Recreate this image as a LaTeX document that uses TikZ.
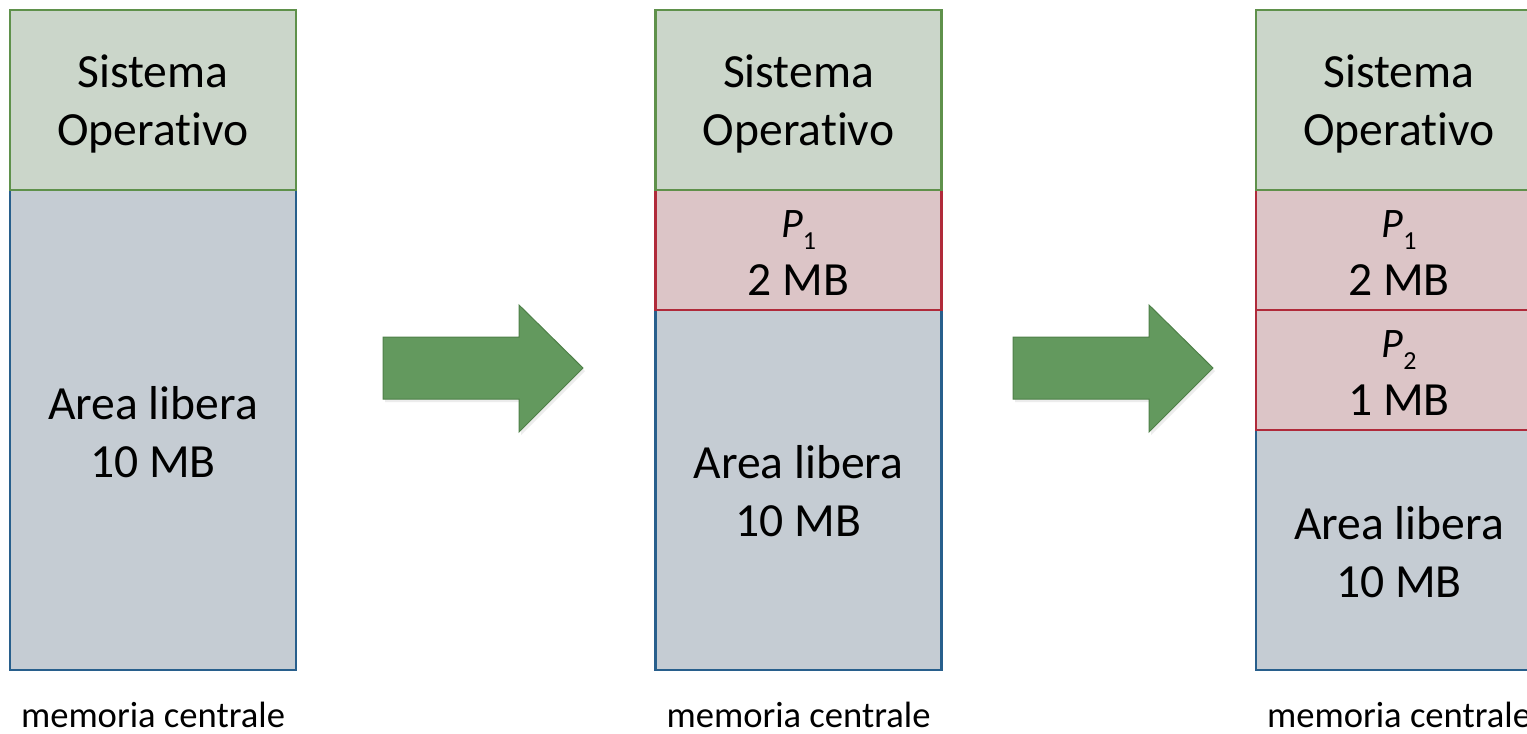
\documentclass[tikz,border=0pt]{standalone}
\usepackage{fontspec}
\setmainfont{Carlito}[Ligatures=NoCommon]
\usetikzlibrary{shadows}

\definecolor{osfill}{RGB}{203,214,202}
\definecolor{osline}{RGB}{95,145,75}
\definecolor{freefill}{RGB}{197,204,211}
\definecolor{freeline}{RGB}{40,95,140}
\definecolor{procfill}{RGB}{220,197,199}
\definecolor{procline}{RGB}{176,42,58}
\definecolor{arrowfill}{RGB}{99,153,94}
\definecolor{arrowline}{RGB}{78,128,72}

\tikzset{
  region/.style={rectangle, draw, line width=2.4pt, minimum width=286pt,
    inner sep=0pt, outer sep=0pt},
  osregion/.style={region, fill=osfill, draw=osline, minimum height=180pt},
  procregion/.style={region, fill=procfill, draw=procline, minimum height=120pt},
  freeregion/.style={region, fill=freefill, draw=freeline},
  regiontext/.style={inner sep=0pt, align=center,
    font=\fontsize{47.6}{58}\selectfont},
  caption/.style={anchor=base, inner sep=0pt, font=\fontsize{36.6}{44}\selectfont},
  blockarrow/.style={fill=arrowfill, draw=arrowline, line width=1pt,
    drop shadow={opacity=0.15, shadow xshift=2pt, shadow yshift=-3pt}}
}

% process name: italic P with a lowered index
\newcommand\procname[1]{{\fontsize{42}{58}\selectfont\itshape P}\raisebox{-12pt}{\fontsize{26}{26}\selectfont #1}}

\begin{document}
\begin{tikzpicture}[x=1pt, y=-1pt]
\clip (0,0) rectangle (1527,734);
\fill[white] (0,0) rectangle (1527,734);

% first state: only the operating system is loaded
\node[freeregion, minimum height=480pt] (free1) at (153,430) {};
\node[osregion] (os1) at (153,100) {};
\node[regiontext] (free1t) at ([yshift=-2pt]free1.center) {Area libera\\10 MB};
\node[regiontext] (os1t) at ([yshift=-4pt]os1.center) {Sistema\\Operativo};
\node[caption] (cap1) at (153,727) {memoria centrale};

% second state: P1 loaded
\node[freeregion, minimum height=360pt] (free2) at (798.5,490) {};
\node[procregion] (p1b) at (798.5,250) {};
\node[osregion] (os2) at (798.5,100) {};
\node[regiontext] (free2t) at ([yshift=-1.5pt]free2.center) {Area libera\\10 MB};
\node[regiontext] (p1bt) at ([yshift=-3pt]p1b.center) {\procname{1}\\2 MB};
\node[regiontext] (os2t) at ([yshift=-4pt]os2.center) {Sistema\\Operativo};
\node[caption] (cap2) at (798.5,727) {memoria centrale};

% third state: P1 and P2 loaded
\node[freeregion, minimum height=240pt] (free3) at (1399,550) {};
\node[procregion] (p2c) at (1399,370) {};
\node[procregion] (p1c) at (1399,250) {};
\node[osregion] (os3) at (1399,100) {};
\node[regiontext] (free3t) at ([yshift=-2pt]free3.center) {Area libera\\10 MB};
\node[regiontext] (p2ct) at ([yshift=-3pt]p2c.center) {\procname{2}\\1 MB};
\node[regiontext] (p1ct) at ([yshift=-3pt]p1c.center) {\procname{1}\\2 MB};
\node[regiontext] (os3t) at ([yshift=-4pt]os3.center) {Sistema\\Operativo};
\node[caption] (cap3) at (1399,727) {memoria centrale};

% block arrows between the states
\foreach \dx in {0,630} {
  \begin{scope}[xshift=\dx pt]
    \path[blockarrow] (383,337) -- (519,337) -- (519,305) -- (583,368)
      -- (519,432) -- (519,399) -- (383,399) -- cycle;
  \end{scope}
}
\end{tikzpicture}
\end{document}
